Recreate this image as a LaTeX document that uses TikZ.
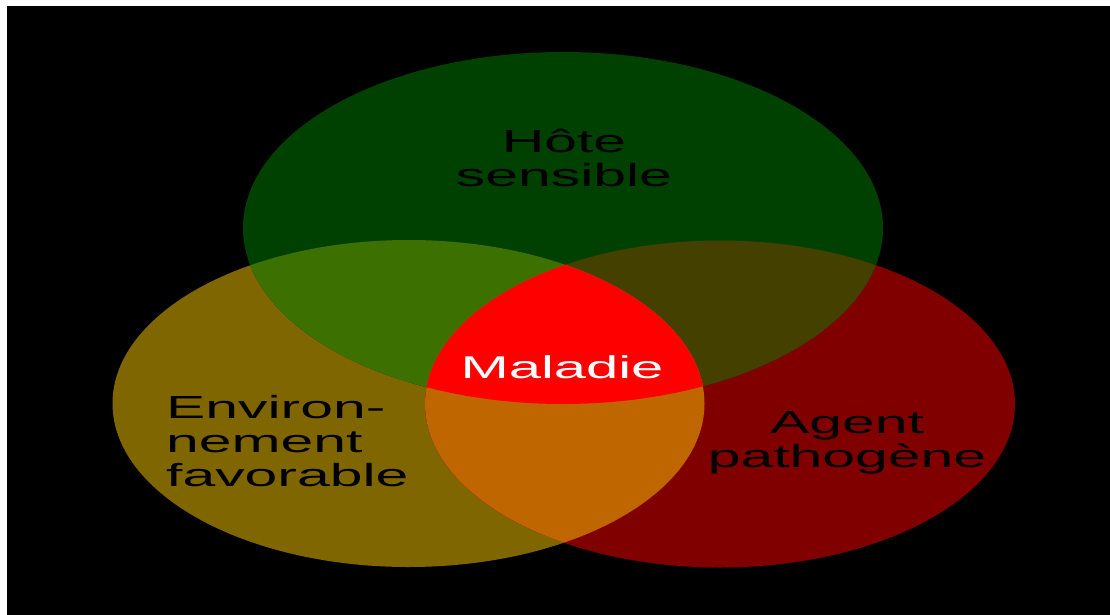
\documentclass[tikz,border=0pt]{standalone}
\usepackage{fontspec}
\setmainfont{Liberation Sans}
\definecolor{cG}{RGB}{0,64,0}
\definecolor{cO}{RGB}{128,102,0}
\definecolor{cR}{RGB}{128,0,0}
\definecolor{cGO}{RGB}{60,112,0}
\definecolor{cGR}{RGB}{68,64,0}
\definecolor{cOR}{RGB}{192,102,0}
\definecolor{cGOR}{RGB}{255,0,0}
\newcommand{\wideText}[2]{\scalebox{1.84}[1]{\begin{tabular}[t]{@{}#1@{}}#2\end{tabular}}}
\tikzset{
  lbl/.style={inner sep=0pt, text=black, font=\fontsize{32}{34}\selectfont},
  G/.style={insert path={(563,228) ellipse [x radius=320pt, y radius=176pt]}},
  O/.style={insert path={(408.5,403.5) ellipse [x radius=296pt, y radius=163.5pt]}},
  R/.style={insert path={(720,404) ellipse [x radius=295pt, y radius=163.5pt]}},
}
\begin{document}
\begin{tikzpicture}[x=1pt,y=-1pt]
\useasboundingbox (0,0) rectangle (1110,615);
\fill[white] (0,0) rectangle (1110,615);
\fill[black] (7,6) rectangle (1110,615);
\fill[cO, O];
\fill[cR, R];
\fill[cG, G];
\begin{scope}\clip[G]; \fill[cGO, O]; \end{scope}
\begin{scope}\clip[G]; \fill[cGR, R]; \end{scope}
\begin{scope}\clip[O]; \fill[cOR, R]; \end{scope}
\begin{scope}\clip[G]; \clip[O]; \fill[cGOR, R]; \end{scope}
\node[lbl, anchor=base] (hote) at (564,152) {\wideText{c}{Hôte\\sensible}};
\node[lbl, anchor=base west] (env) at (166,418) {\wideText{l}{Environ-\\nement\\favorable}};
\node[lbl, anchor=base] (agent) at (847,433) {\wideText{c}{Agent\\pathogène}};
\node[lbl, anchor=base, text=white, font=\fontsize{31.5}{34}\selectfont] (mal) at (562,378) {\scalebox{1.84}[1]{Maladie}};
\end{tikzpicture}
\end{document}
